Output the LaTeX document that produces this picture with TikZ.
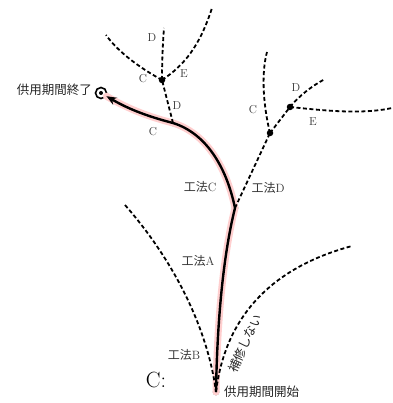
\documentclass[tikz,border=0pt]{standalone}
\usepackage{fontspec}
\newfontfamily\cjk{Noto Sans CJK JP}
\usetikzlibrary{arrows.meta}
\begin{document}
\begin{tikzpicture}[x=1pt,y=-1pt,
  dsh/.style={line width=1.8pt, dash pattern=on 4pt off 2.5pt},
  dotn/.style={circle, fill=black, inner sep=0pt, minimum size=6.5pt},
  glow/.style={line width=7pt, draw=pink!75, line cap=round},
  mainline/.style={line width=2.4pt, draw=black},
  lbl/.style={font=\fontsize{11.5}{11.5}\selectfont, text=black!80, inner sep=0pt},
  jlbl/.style={font=\fontsize{12}{12}\selectfont, text=black!80, inner sep=0pt},
  jbig/.style={font=\cjk\fontsize{12.5}{12.5}\selectfont, text=black!85, inner sep=0pt}]
\useasboundingbox (0,0) rectangle (392,403);
% points
\node[dotn] (S) at (216,392) {};
\node[dotn] (A) at (235,208) {};
\node[dotn] (K) at (173,123) {};
\node[dotn] (D1) at (162,80) {};
\node[dotn] (D2) at (270,133) {};
\node[dotn] (D3) at (290,107) {};
\node[circle, draw=black, line width=1.6pt, minimum size=11pt, inner sep=0pt] (END) at (101,93) {};
\node[circle, fill=black, minimum size=4pt, inner sep=0pt] at (END) {};
\coordinate (L1) at (125,205);
\coordinate (R1) at (352,246);
\coordinate (t1) at (164,28);
\coordinate (t2) at (106,35);
\coordinate (t3) at (212,8);
\coordinate (t4) at (267,52);
\coordinate (t5) at (325,79);
\coordinate (t6) at (392,108);
% glow
\draw[glow] (S.center) .. controls (217,330) and (222,260) .. (A.center)
  .. controls (226,165) and (205,133) .. (K.center)
  .. controls (150,117) and (130,110) .. (END);
% dashed branches
\draw[dsh] (L1) .. controls (175,262) and (208,330) .. (S.center);
\draw[dsh] (S.center) .. controls (225,318) and (270,268) .. (R1);
\draw[dsh] (K.center) -- (D1.center);
\draw[dsh] (D1.center) .. controls (162,60) and (163,40) .. (t1);
\draw[dsh] (D1.center) .. controls (140,68) and (118,52) .. (t2);
\draw[dsh] (D1.center) .. controls (185,65) and (200,45) .. (t3);
\draw[dsh] (A.center) -- (D2.center);
\draw[dsh] (D2.center) .. controls (262,100) and (262,70) .. (t4);
\draw[dsh] (D2.center) -- (D3.center);
\draw[dsh] (D3.center) .. controls (300,95) and (312,86) .. (t5);
\draw[dsh] (D3.center) .. controls (320,110) and (360,115) .. (t6);
% main
\draw[mainline] (S.center) .. controls (217,330) and (222,260) .. (A.center)
  .. controls (226,165) and (205,133) .. (K.center);
\draw[mainline, -{Stealth[length=10pt,width=8pt]}] (K.center) .. controls (150,117) and (130,110) .. (END);
% labels
\node[jbig, anchor=east] (endlbl) at (92,90) {供用期間終了};
\node[jbig, anchor=west] (startlbl) at (224,392) {供用期間開始};
\node[jlbl] (mA) at (198,261) {{\cjk 工法}A};
\node[jlbl] (mB) at (184,355) {{\cjk 工法}B};
\node[jlbl] (mC) at (200,187) {{\cjk 工法}C};
\node[jlbl] (mD) at (268,188) {{\cjk 工法}D};
\node[jbig, rotate=65] (nr) at (245,343) {補修しない};
\node[font=\fontsize{22}{22}\selectfont, inner sep=0pt] (Cbig) at (156,380) {C:};
\node[lbl] (kC) at (153,132) {C};
\node[lbl] (kD) at (177,106) {D};
\node[lbl] (d1D) at (152,38) {D};
\node[lbl] (d1C) at (143,79) {C};
\node[lbl] (d1E) at (184,74) {E};
\node[lbl] (d2C) at (253,110) {C};
\node[lbl] (d2D) at (296,88) {D};
\node[lbl] (d2E) at (313,122) {E};
\end{tikzpicture}
\end{document}
